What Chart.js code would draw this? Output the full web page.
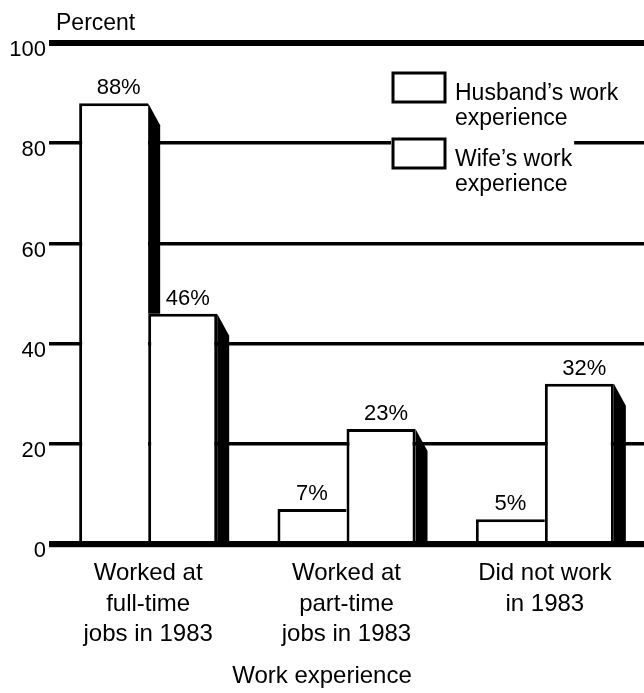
<!DOCTYPE html>
<html>
<head>
<meta charset="utf-8">
<script src="https://cdn.jsdelivr.net/npm/chart.js@4.4.1/dist/chart.umd.min.js"></script>
<style>
  html, body { margin: 0; padding: 0; background: #fff; }
</style>
</head>
<body>
<canvas id="myChart" width="644" height="693"></canvas>
<script>
// categories along the bottom (one array per line)
let categories = [['Worked at', 'full-time', 'jobs in 1983'], ['Worked at', 'part-time', 'jobs in 1983'], ['Did not work', 'in 1983']];
// percent, husband's work experience
let husbandValues = [88, 7, 5];
// percent, wife's work experience
let wifeValues = [46, 23, 32];
// legend text, two lines each
let seriesLabels = [['Husband\u2019s work', 'experience'], ['Wife\u2019s work', 'experience']];
// y axis ticks
let yTicks = [0, 20, 40, 60, 80, 100];

const FONT = '"Liberation Sans", Arial, Helvetica, sans-serif';
Chart.defaults.font.family = FONT;
Chart.defaults.color = '#000';

// draws the black side of a bar, slanted at the top
function shade(ctx, x, top, bottom) {
    const depth = 12, slant = 22;
    ctx.beginPath();
    ctx.moveTo(x, top);
    ctx.lineTo(x + depth, Math.min(top + slant, bottom));
    ctx.lineTo(x + depth, bottom);
    ctx.lineTo(x, bottom);
    ctx.closePath();
    ctx.fill();
}

// shadows, value labels, legend and the "Percent" caption
const sketchPlugin = {
    id: 'sketch',
    afterDatasetsDraw(chart) {
        const ctx = chart.ctx;
        const area = chart.chartArea;
        const yScale = chart.scales.y;
        const hBars = chart.getDatasetMeta(0).data;
        const wBars = chart.getDatasetMeta(1).data;
        ctx.save();
        ctx.fillStyle = '#000';

        // the base line goes over the bars
        const y0 = yScale.getPixelForValue(0);
        ctx.fillRect(area.left, y0 - 3, area.right - area.left, 6);

        const shaded = [];
        hBars.forEach((h, i) => {
            const w = wBars[i];
            if (h.y < w.y) {
                shade(ctx, h.x + h.width / 2, h.y, w.y);
                shaded.push(h);
            }
            shade(ctx, w.x + w.width / 2, w.y, y0 - 3);
            shaded.push(w);
        });

        // value labels
        ctx.font = '22px ' + FONT;
        ctx.textAlign = 'center';
        ctx.textBaseline = 'alphabetic';
        const all = [[hBars, husbandValues], [wBars, wifeValues]];
        all.forEach(([bars, vals]) => {
            bars.forEach((b, i) => {
                const shift = shaded.includes(b) ? 5 : 0;
                ctx.fillText(vals[i] + '%', b.x + shift, b.y - 9);
            });
        });

        // legend
        ctx.font = '23px ' + FONT;
        ctx.textAlign = 'left';
        const lx = 393, boxW = 52, boxH = 29;
        const tops = [73, 139];
        seriesLabels.forEach((lines, i) => {
            const top = tops[i];
            const tw = Math.max(...lines.map(t => ctx.measureText(t).width));
            ctx.fillStyle = '#fff';
            ctx.fillRect(lx - 2, top - 2, boxW + 14 + tw, 58);
            ctx.strokeStyle = '#000';
            ctx.lineWidth = 3;
            ctx.strokeRect(lx, top, boxW, boxH);
            ctx.fillStyle = '#000';
            lines.forEach((t, j) => ctx.fillText(t, lx + boxW + 10, top + 27 + j * 25));
        });

        // axis caption
        ctx.font = '23px ' + FONT;
        ctx.fillText('Percent', 56, 30);
        ctx.restore();
    }
};

let myChart = document.getElementById('myChart').getContext('2d');

let chart = new Chart(myChart, {
    type: 'bar',
    data: {
        labels: categories,
        datasets: [{
            label: seriesLabels[0].join(' '),
            data: husbandValues,
            backgroundColor: '#fff',
            borderColor: '#000',
            borderWidth: { top: 3, left: 3, right: 0, bottom: 0 },
            borderSkipped: false
        }, {
            label: seriesLabels[1].join(' '),
            data: wifeValues,
            backgroundColor: '#fff',
            borderColor: '#000',
            borderWidth: { top: 3, left: 3, right: 3, bottom: 0 },
            borderSkipped: false
        }]
    },
    options: {
        responsive: false,
        animation: false,
        categoryPercentage: 0.696,
        barPercentage: 1,
        layout: { padding: { top: 43, left: 0, right: 0, bottom: 0 } },
        plugins: {
            legend: { display: false },
            tooltip: { enabled: false },
            title: {
                display: true,
                position: 'bottom',
                text: 'Work experience',
                color: '#000',
                font: { size: 24, weight: 'normal' },
                padding: { top: 0, bottom: 2 }
            }
        },
        scales: {
            x: {
                grid: { display: false, drawTicks: false },
                border: { display: false },
                ticks: {
                    color: '#000',
                    font: { size: 24, lineHeight: 1.27 },
                    padding: 14,
                    maxRotation: 0,
                    autoSkip: false
                },
                afterFit(scale) { scale.height = 118; }
            },
            y: {
                min: 0,
                max: 100,
                afterBuildTicks(scale) { scale.ticks = yTicks.map(v => ({ value: v })); },
                grid: {
                    color: '#000',
                    drawTicks: false,
                    lineWidth: c => (c.tick && (c.tick.value === 0 || c.tick.value === 100)) ? 6 : 3.5
                },
                border: { display: false },
                ticks: { color: '#000', font: { size: 22 }, padding: 3, labelOffset: 7 },
                afterFit(scale) { scale.width = 49; }
            }
        }
    },
    plugins: [sketchPlugin]
});
</script>
</body>
</html>
